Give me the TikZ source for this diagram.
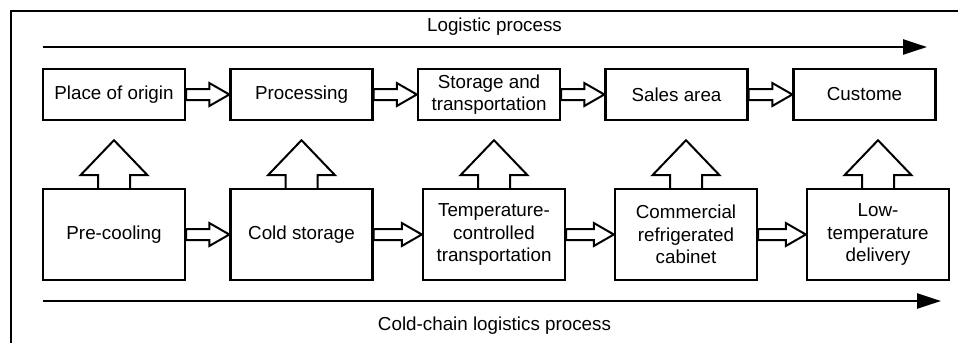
\documentclass[tikz,border=0pt]{standalone}
\usepackage{fontspec}
\setmainfont{Liberation Sans}
\usetikzlibrary{arrows.meta,calc}
\begin{document}
\begin{tikzpicture}[x=1bp,y=-1bp,
  font=\fontsize{18.8bp}{22.5bp}\selectfont,
  box/.style={draw,line width=2.4bp,minimum width=142bp,align=center,inner sep=0pt},
  topbox/.style={box,minimum height=51bp},
  botbox/.style={box,minimum height=91bp},
  harrow/.style={line width=2bp,line join=miter,to path={let \p1=(\tikztostart),\p2=(\tikztotarget) in
     (\x1,\y1+5.5bp) -- (\x2-20bp,\y1+5.5bp) -- (\x2-20bp,\y1+11.5bp) -- (\x2,\y1) --
     (\x2-20bp,\y1-11.5bp) -- (\x2-20bp,\y1-5.5bp) -- (\x1,\y1-5.5bp) -- cycle}},
  varrow/.style={line width=2bp,line join=miter,to path={let \p1=(\tikztostart),\p2=(\tikztotarget) in
     (\x1-16bp,\y1) -- (\x1-16bp,\y2-54bp) -- (\x1-33.5bp,\y2-54bp) -- (\x1,\y2-19bp) --
     (\x1+33.5bp,\y2-54bp) -- (\x1+16bp,\y2-54bp) -- (\x1+16bp,\y1)}},
  longarrow/.style={line width=2.4bp,-{Triangle[length=24bp,width=15bp]}}
]
\useasboundingbox (0,0) rectangle (958,342);
\draw[line width=2.4bp] (11,345) -- (11,11) -- (961,11);

% top row
\node[topbox] (t1) at (114,94.5) {Place of origin};
\node[topbox] (t2) at (301.5,94.5) {Processing};
\node[topbox] (t3) at (489,94.5) {Storage and\\transportation};
\node[topbox] (t4) at (676.5,94.5) {Sales area};
\node[topbox] (t5) at (864.5,94.5) {Custome};

% bottom row
\node[botbox] (b1) at (114,234.5) {Pre-cooling};
\node[botbox] (b2) at (301.5,234.5) {Cold storage};
\node[botbox] (b3) at (494,234.5) {Temperature-\\controlled\\transportation};
\node[botbox] (b4) at (686,234.5) {Commercial\\refrigerated\\cabinet};
\node[botbox] (b5) at (878,234.5) {Low-\\temperature\\delivery};

% block arrows
\foreach \a/\b in {t1/t2,t2/t3,t3/t4,t4/t5,b1/b2,b2/b3,b3/b4,b4/b5}
  \draw[harrow] (\a.east) to (\b.west);
\foreach \i in {1,...,5}
  \draw[varrow] (b\i.north) to (t\i.south);

% long arrows
\coordinate (ls) at (43,47);
\coordinate (le) at (927,47);
\coordinate (cs) at (43,301);
\coordinate (ce) at (941,301);
\draw[longarrow] (ls) -- (le);
\draw[longarrow] (cs) -- (ce);
\node (ll) at (494.5,27) {Logistic process};
\node (cl) at (494.5,326) {Cold-chain logistics process};
\end{tikzpicture}
\end{document}
